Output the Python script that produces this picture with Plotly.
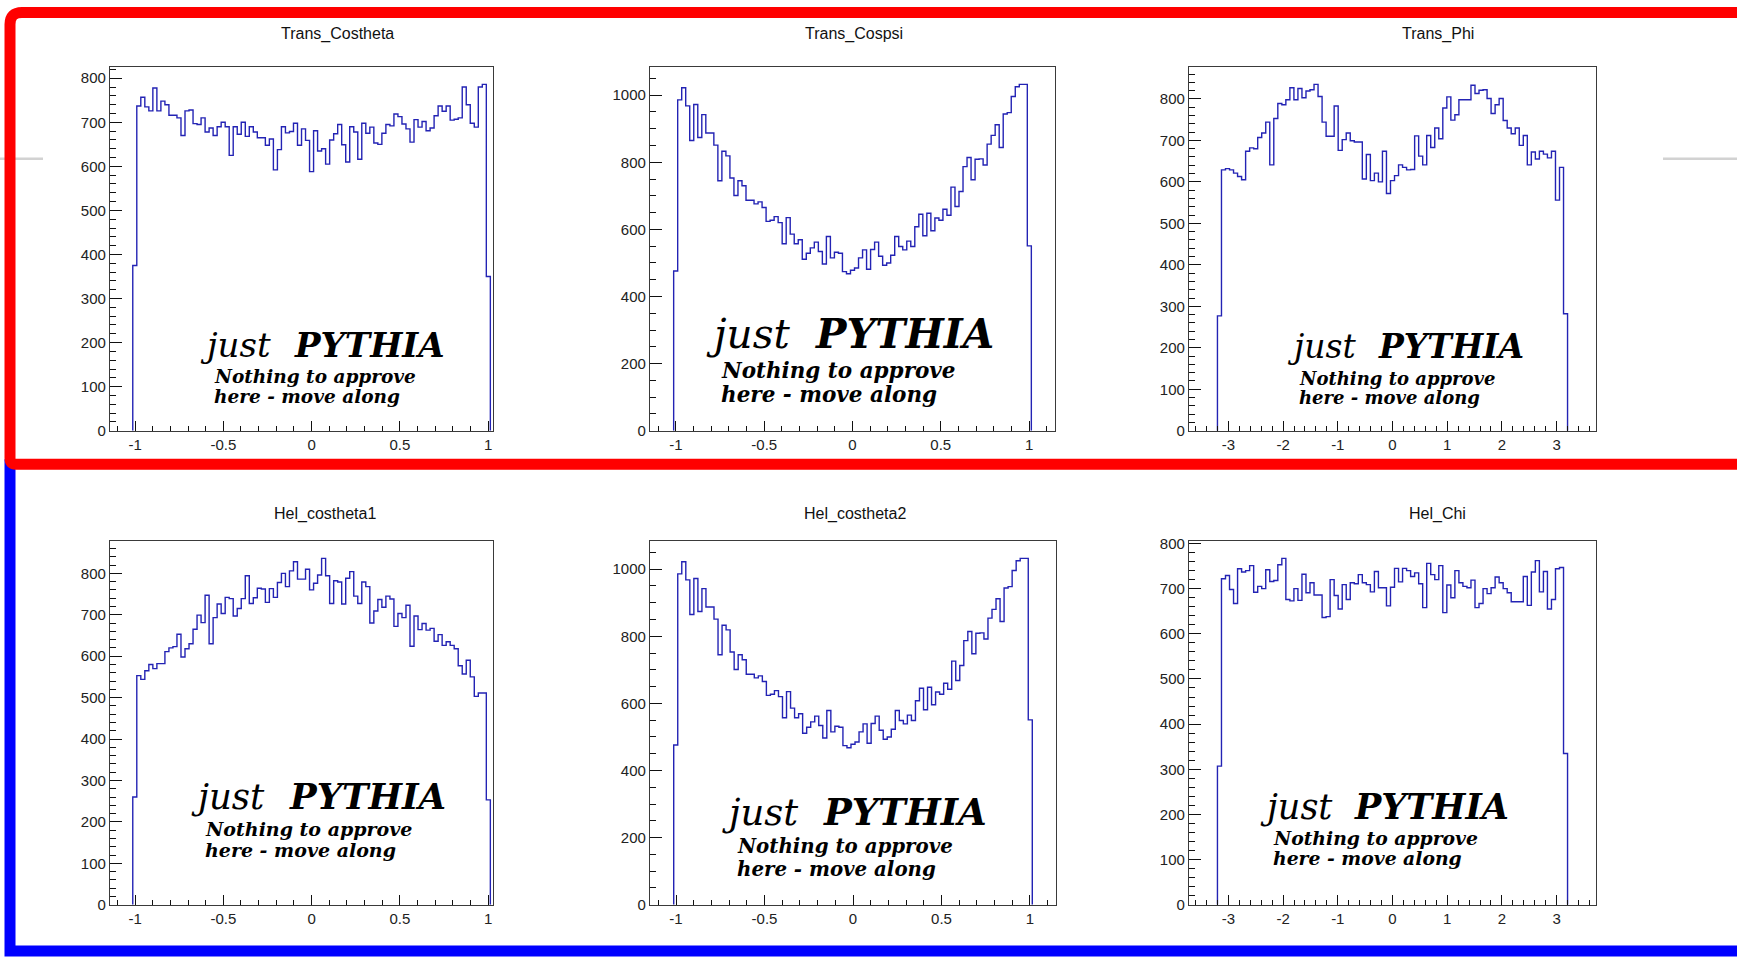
import numpy as np
import plotly.graph_objects as go

W, H = 1737, 962

# ---------------------------------------------------------------- data
TITLES = ["Trans_Costheta", "Trans_Cospsi", "Trans_Phi",
          "Hel_costheta1", "Hel_costheta2", "Hel_Chi"]

TRANS_COSTHETA = [
    375, 737, 757, 735, 726, 778, 726, 748, 740, 716,
    716, 710, 670, 726, 728, 697, 695, 710, 678, 687,
    670, 690, 700, 690, 625, 690, 673, 700, 668, 690,
    678, 665, 665, 648, 662, 592, 638, 690, 676, 679,
    698, 648, 685, 659, 588, 681, 635, 640, 605, 660,
    674, 695, 649, 610, 690, 678, 616, 698, 675, 689,
    653, 650, 675, 695, 692, 719, 713, 696, 685, 655,
    706, 689, 702, 681, 687, 715, 737, 725, 737, 705,
    707, 710, 780, 740, 698, 689, 780, 786, 350,
]

TRANS_COSPSI = [
    476, 986, 1022, 968, 865, 972, 874, 942, 887, 887,
    851, 745, 833, 819, 753, 701, 745, 730, 687, 687,
    676, 682, 665, 624, 627, 638, 620, 557, 635, 586,
    557, 569, 511, 529, 545, 562, 534, 497, 579, 515,
    532, 529, 474, 468, 478, 485, 515, 539, 481, 540,
    562, 520, 493, 500, 523, 579, 549, 539, 565, 549,
    608, 645, 581, 648, 596, 634, 627, 660, 642, 726,
    668, 713, 787, 814, 748, 809, 810, 792, 854, 880,
    912, 844, 944, 948, 996, 1025, 1032, 1032, 551,
]

TRANS_PHI = [
    277, 629, 632, 629, 621, 613, 605, 674, 682, 680,
    707, 718, 744, 641, 753, 789, 786, 798, 827, 798,
    825, 803, 819, 822, 835, 806, 744, 710, 710, 783,
    676, 702, 718, 699, 696, 696, 607, 666, 603, 621,
    600, 674, 572, 603, 615, 641, 635, 629, 630, 711,
    662, 641, 712, 683, 730, 704, 778, 805, 749, 762,
    798, 798, 798, 833, 813, 821, 822, 801, 765, 786,
    801, 748, 730, 716, 730, 688, 712, 641, 672, 655,
    674, 667, 658, 674, 556, 635, 282,
]

HEL_COSTHETA1 = [
    260, 553, 544, 565, 580, 570, 582, 582, 611, 620,
    623, 653, 598, 618, 630, 665, 699, 681, 747, 630,
    693, 726, 703, 742, 739, 697, 715, 739, 794, 727,
    741, 764, 762, 730, 763, 742, 778, 800, 768, 806,
    828, 786, 786, 810, 760, 776, 796, 836, 794, 727,
    782, 779, 726, 788, 804, 745, 727, 779, 768, 680,
    709, 737, 718, 745, 738, 672, 703, 693, 723, 624,
    697, 664, 679, 663, 667, 636, 652, 626, 635, 626,
    618, 577, 557, 590, 550, 503, 511, 511, 253,
]

# cos(psi) in the transversity frame is the helicity cos(theta2)
HEL_COSTHETA2 = list(TRANS_COSPSI)

HEL_CHI = [
    307, 722, 729, 698, 667, 744, 737, 740, 751, 692,
    705, 700, 742, 716, 718, 753, 767, 676, 673, 700,
    674, 732, 691, 713, 686, 686, 636, 638, 720, 685,
    655, 709, 676, 713, 711, 731, 713, 709, 693, 738,
    702, 702, 662, 703, 745, 715, 745, 740, 727, 735,
    711, 658, 756, 731, 720, 751, 647, 708, 680, 740,
    713, 705, 702, 719, 658, 667, 700, 689, 702, 726,
    713, 700, 691, 671, 671, 671, 727, 663, 737, 762,
    693, 738, 655, 676, 744, 747, 335,
]

SERIES = [TRANS_COSTHETA, TRANS_COSPSI, TRANS_PHI,
          HEL_COSTHETA1, HEL_COSTHETA2, HEL_CHI]

COS_HIST_RANGE = (-1.013, 1.013)
ANGLE_HIST_RANGE = (-3.2, 3.2)
# left-column pads are cropped a little on the right
X_AXIS_RANGES = [(-1.142, 1.028), (-1.147, 1.147), (-3.72, 3.72),
                 (-1.142, 1.028), (-1.147, 1.147), (-3.72, 3.72)]

COS_TICKS = [-1, -0.5, 0, 0.5, 1]
COS_TICK_TEXT = ["-1", "-0.5", "0", "0.5", "1"]
ANGLE_TICKS = [-3, -2, -1, 0, 1, 2, 3]
ANGLE_TICK_TEXT = ["-3", "-2", "-1", "0", "1", "2", "3"]

KIND = ["cos", "cos", "angle", "cos", "cos", "angle"]

# ---------------------------------------------------------------- layout
# pad frames in pixels: (left, right, top, bottom)
FRAMES = [
    (110, 493, 62, 431), (650, 1055, 62, 431), (1189, 1596, 62, 431),
    (110, 493, 543, 912), (650, 1056, 543, 912), (1189, 1596, 543, 912),
]
TITLE_POS = [(337, 28), (854, 28), (1438, 28),
             (325, 516), (855, 516), (1437, 516)]

# (just_x, PYTHIA_x, baseline, size, note_x, note_base1, note_base2, note_size)
STAMP = [
    (199, 293, 357, 34, 213, 383, 404, 18.5),
    (705, 814, 349, 40.5, 720, 379, 403, 21.5),
    (1286, 1377, 359, 33, 1298, 385, 405, 18),
    (190, 288, 816, 35.5, 204, 843, 864, 19),
    (721, 822, 833, 37, 736, 861, 884, 19.8),
    (1259, 1353, 826, 35, 1272, 852, 872, 18.8),
]

LINE_BLUE = "#2323b4"
FRAME_COL = "#3a3a3a"
TICK_FONT = dict(family="Liberation Sans, Arial, sans-serif", size=15, color="#222222")
SERIF = "DejaVu Serif, serif"


def px(x):
    return x / W


def py(y):
    return 1 - y / H


fig = go.Figure()
annotations = []
shapes = []

for i, (vals, kind) in enumerate(zip(SERIES, KIND)):
    n = i + 1
    xa = "x" if n == 1 else f"x{n}"
    ya = "y" if n == 1 else f"y{n}"
    lo, hi = COS_HIST_RANGE if kind == "cos" else ANGLE_HIST_RANGE
    edges = np.linspace(lo, hi, len(vals) + 1)
    xs = [edges[0]] + list(edges)
    ys = [0] + list(vals) + [0]
    fig.add_trace(go.Scatter(
        x=xs, y=ys, mode="lines", line=dict(color=LINE_BLUE, width=1.4, shape="hv"),
        xaxis=xa, yaxis=ya, showlegend=False, hoverinfo="skip", cliponaxis=True))

    l, r, t, b = FRAMES[i]
    ymax = 1.05 * max(vals)
    big = ymax > 1000
    if kind == "cos":
        tv, tt, minor_dx = COS_TICKS, COS_TICK_TEXT, 0.1
    else:
        tv, tt, minor_dx = ANGLE_TICKS, ANGLE_TICK_TEXT, 0.2

    xkey = "xaxis" if n == 1 else f"xaxis{n}"
    ykey = "yaxis" if n == 1 else f"yaxis{n}"
    fig.layout[xkey] = dict(
        domain=[px(l), px(r)], anchor=ya, range=list(X_AXIS_RANGES[i]),
        tickmode="array", tickvals=tv, ticktext=tt,
        ticks="inside", ticklen=10, tickwidth=1.2, tickcolor="#111",
        minor=dict(ticks="inside", dtick=minor_dx, tick0=0, ticklen=5,
                   tickwidth=1.2, tickcolor="#111"),
        showline=True, mirror=True, linecolor=FRAME_COL, linewidth=1.3,
        showgrid=False, zeroline=False, tickfont=TICK_FONT, fixedrange=True)
    fig.layout[ykey] = dict(
        domain=[py(b), py(t)], anchor=xa, range=[0, ymax],
        tick0=0, dtick=200 if big else 100,
        ticks="inside", ticklen=12, tickwidth=1.2, tickcolor="#111",
        minor=dict(ticks="inside", dtick=50 if big else 20, ticklen=6,
                   tickwidth=1.2, tickcolor="#111"),
        showline=True, mirror=True, linecolor=FRAME_COL, linewidth=1.3,
        showgrid=False, zeroline=False, tickfont=TICK_FONT, fixedrange=True)

    # pad title
    tx, ty = TITLE_POS[i]
    annotations.append(dict(
        x=px(tx), y=py(ty), xref="paper", yref="paper", xanchor="center",
        yanchor="middle", showarrow=False, text=TITLES[i], borderpad=0,
        font=dict(family="Liberation Sans, Arial, sans-serif", size=16, color="#111")))

    # stamp text
    jx, pyx, base, s, nx, nb1, nb2, ns = STAMP[i]
    desc = 0.236
    annotations.append(dict(
        x=px(jx), y=py(base + desc * s), xref="paper", yref="paper",
        xanchor="left", yanchor="bottom", showarrow=False, borderpad=0,
        text="<i>just</i>", font=dict(family=SERIF, size=s, color="#000")))
    annotations.append(dict(
        x=px(pyx), y=py(base + desc * s), xref="paper", yref="paper",
        xanchor="left", yanchor="bottom", showarrow=False, borderpad=0,
        text="<b><i>PYTHIA</i></b>", font=dict(family=SERIF, size=s, color="#000")))
    for line, nb in (("Nothing to approve", nb1), ("here - move along", nb2)):
        annotations.append(dict(
            x=px(nx), y=py(nb + desc * ns), xref="paper", yref="paper",
            xanchor="left", yanchor="bottom", showarrow=False, borderpad=0,
            text=f"<b><i>{line}</i></b>",
            font=dict(family=SERIF, size=ns, color="#000")))

# faint grey separators at the page edges
for x0, x1 in ((0, 43), (1663, W)):
    shapes.append(dict(type="line", xref="paper", yref="paper",
                       x0=px(x0), x1=px(x1), y0=py(155), y1=py(155),
                       line=dict(color="#d2d2d2", width=2.5)))

# blue frame around the lower row (left and bottom sides)
shapes.append(dict(
    type="path", xref="paper", yref="paper",
    path=f"M {px(10)},{py(460)} L {px(10)},{py(959)} L {px(W + 20)},{py(959)}",
    line=dict(color="#0000ff", width=11)))

# red frame around the upper row, open at the right edge
red_path = (f"M {px(W + 20)},{py(6.5)} L {px(22)},{py(6.5)} "
            f"Q {px(10)},{py(6.5)} {px(10)},{py(18.5)} "
            f"L {px(10)},{py(459)} Q {px(10)},{py(465)} {px(16)},{py(465)} "
            f"L {px(W + 20)},{py(465)}")
shapes.append(dict(type="path", xref="paper", yref="paper", path=red_path,
                   line=dict(color="#ff0000", width=11)))

fig.update_layout(
    width=W, height=H, margin=dict(l=0, r=0, t=0, b=0),
    paper_bgcolor="white", plot_bgcolor="white",
    annotations=annotations, shapes=shapes, showlegend=False)

fig.write_html("out.html", config=dict(displayModeBar=False))
